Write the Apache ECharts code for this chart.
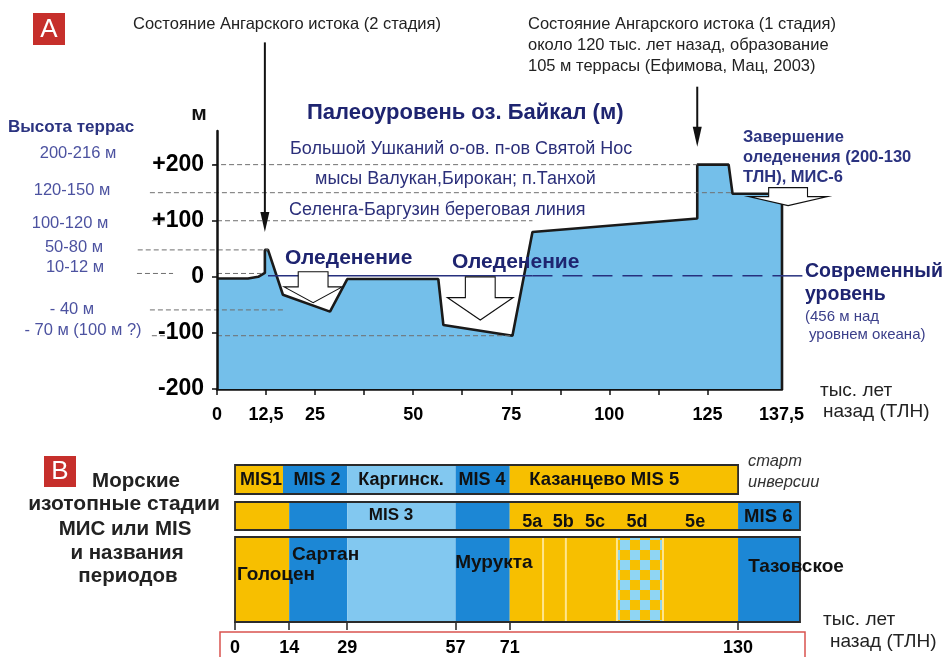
<!DOCTYPE html>
<html><head><meta charset="utf-8">
<script src="https://cdn.jsdelivr.net/npm/echarts@6/dist/echarts.min.js"></script>
<style>html,body{margin:0;padding:0;background:#fff}#c{width:944px;height:657px}</style>
</head><body><div id="c"></div>
<script>
// ================= DATA: panel A (Baikal palaeo-level, m vs kyr BP) =================
const profileKyr   = [0, 7.9, 10.5, 12.2, 12.2, 13.0, 16.8, 28.8, 33.2, 56.4, 57.7, 75.3, 80.4, 122.4, 122.4, 130.4, 131.4, 144, 144];
const profileLevel = [-3, -3, 0, 7, 48, 48, -32, -62, -4, -4, -86, -105, 80, 104, 200, 200, 148, 148, -200];
const yTickValues  = [-200, -100, 0, 100, 200];
const xTickValues  = [0, 12.5, 25, 37.5, 50, 62.5, 75, 87.5, 100, 112.5, 125];
const xLabelValues = [0, 12.5, 25, 50, 75, 100, 125, 137.5];
// terrace reference levels (grey dashed): level, from kyr, to kyr
const terraceLevel = [200, 150, 100, 100, 48, 6, 6, -59, -105, -105];
const terraceFrom  = [-1, -17.1, -16.6, 0, -20.2, -20.4, 0, -17.1, -16.6, 0];
const terraceTo    = [122.4, 131.4, -12.5, 80.4, 13.0, -11.2, 11.7, 17.0, -12.5, 75.3];
// modern level (0 m): segments from / to and dashed flag
const modernFrom   = [13.0, 80.4, 144];
const modernTo     = [80.4, 144, 149.2];
const modernDashed = [0, 1, 0];
// Angara source arrows: kyr, from level, to level (tip)
const sourceKyr  = [12.2, 122.4];
const sourceFrom = [418, 339];
const sourceTo   = [80, 232];
// glaciation arrows: [left, right, stemLeft, stemRight] kyr, [top, headTop, tip] m
const glacLeft   = [17.1, 58.7, 135.5];
const glacRight  = [31.9, 75.5, 155.6];
const glacStemL  = [20.7, 63.3, 140.6];
const glacStemR  = [28.3, 70.9, 150.5];
const glacTop    = [9, 0, 159];
const glacHead   = [-18, -37, 143];
const glacTip    = [-46, -77, 127];

// ================= DATA: panel B (marine isotope stages) =================
const row1Bounds = [0, 12.4, 29, 57, 71, 130];
const row1Kinds  = ['warm', 'cold', 'inter', 'cold', 'warm'];
const row1Names  = ['MIS1', 'MIS 2', 'Каргинск.', 'MIS 4', 'Казанцево MIS 5'];
const row2Bounds = [0, 14, 29, 57, 71, 130, 146];
const row2Kinds  = ['warm', 'cold', 'inter', 'cold', 'warm', 'cold'];
const row2Names  = ['', '', 'MIS 3', '', '', 'MIS 6'];
const row3Bounds = [0, 14, 29, 57, 71, 130, 146];
const row3Kinds  = ['warm', 'cold', 'inter', 'cold', 'warm', 'cold'];
const row3Names  = ['Голоцен', 'Сартан', '', 'Мурукта', '', 'Тазовское'];
const substageNames = ['5a', '5b', '5c', '5d', '5e'];
const substageKyr   = [76.8, 84.8, 93.0, 103.9, 118.9];
const substageDividers = [79.6, 85.5, 98.7, 110.6];
const checkerRange  = [98.7, 110.6];
const bottomTicks   = [0, 14, 29, 57, 71, 130];

// ================= LAYOUT / STYLE =================
const FONT = '"Liberation Sans", Arial, Helvetica, sans-serif';
const NAVY = '#1e2470';
const KIND_COLOR = { warm: '#f7bf00', cold: '#1c87d5', inter: '#82c8f0' };
const ROW_BANDS = [[0, 29], [37, 65], [72, 157]];     // in panel-B y-axis units
// label anchors: [kyr, bandY, align, fontSize]
const ROW_LABEL_LAYOUT = [
  [[6.7, 15, 'center', 18], [21.2, 15, 'center', 18], [42.9, 15, 'center', 18], [63.8, 15, 'center', 18], [95.4, 15, 'center', 18.5]],
  [null, null, [40.3, 50, 'center', 17], null, null, [137.8, 52, 'center', 18.5]],
  [[0.5, 110, 'left', 19], [14.7, 90, 'left', 19], null, [56.9, 98, 'left', 19], null, [132.6, 102, 'left', 19]]
];
const SUBSTAGE_Y = 57;

function font(size, weight, style) {
  return (style === 'italic' ? 'italic ' : '') + (weight === 'bold' ? 'bold ' : '') + size + 'px ' + FONT;
}

// ---- build panel B segments ----
const segStart = [], segEnd = [], segRow = [], segKind = [];
[[row1Bounds, row1Kinds], [row2Bounds, row2Kinds], [row3Bounds, row3Kinds]].forEach(([b, k], r) => {
  k.forEach((kind, i) => { segStart.push(b[i]); segEnd.push(b[i + 1]); segRow.push(r); segKind.push(kind); });
});
const rowFrames = [row1Bounds, row2Bounds, row3Bounds].map((b, r) => [b[0], b[b.length - 1], r]);

const labelText = [], labelData = [], labelAlign = [], labelSize = [];
[row1Names, row2Names, row3Names].forEach((names, r) => {
  names.forEach((n, i) => {
    const L = ROW_LABEL_LAYOUT[r][i];
    if (!n || !L) return;
    labelText.push(n); labelData.push([L[0], L[1]]); labelAlign.push(L[2]); labelSize.push(L[3]);
  });
});
substageNames.forEach((n, i) => { labelText.push(n); labelData.push([substageKyr[i], SUBSTAGE_Y]); labelAlign.push('center'); labelSize.push(18); });

// checker pattern canvas
function checkerCanvas() {
  const c = document.createElement('canvas'); c.width = 20; c.height = 20;
  const g = c.getContext('2d');
  g.fillStyle = KIND_COLOR.warm; g.fillRect(0, 0, 20, 20);
  g.fillStyle = '#8fd5f3'; g.fillRect(0, 0, 10, 10); g.fillRect(10, 10, 10, 10);
  return c;
}
const checkerImg = checkerCanvas();

// ---- graphics (free annotations) ----
const graphics = [];
function T(x, y, s, o) {
  graphics.push({ type: 'text', x: x, y: y, silent: true, z: 100,
    style: { text: s, fill: o.c || '#222', font: font(o.s, o.w, o.st),
      align: o.a || 'left', textAlign: o.a || 'left', verticalAlign: 'middle', textVerticalAlign: 'middle' } });
}
function R(x, y, w, h, fill, stroke) {
  graphics.push({ type: 'rect', silent: true, z: 99, shape: { x: x, y: y, width: w, height: h },
    style: { fill: fill || 'none', stroke: stroke || 'none', lineWidth: 1.5 } });
}
// panel A texts
R(33, 13, 32, 32, '#c62f2b'); T(49, 29.5, 'A', { s: 26, c: '#fff', a: 'center' });
T(133, 24, 'Состояние Ангарского истока (2 стадия)', { s: 16.5 });
T(528, 24, 'Состояние Ангарского истока (1 стадия)', { s: 16.5 });
T(528, 45, 'около 120 тыс. лет назад, образование', { s: 16.5 });
T(528, 66, '105 м террасы (Ефимова, Мац, 2003)', { s: 16.5 });
T(307, 113, 'Палеоуровень оз. Байкал (м)', { s: 22, w: 'bold', c: NAVY });
T(199, 114, 'м', { s: 21, w: 'bold', c: '#111', a: 'center' });
T(8, 127, 'Высота террас', { s: 17, w: 'bold', c: '#2b3380' });
const TERR = '#4c52a0';
T(78, 153, '200-216 м', { s: 16.5, c: TERR, a: 'center' });
T(72, 190, '120-150 м', { s: 16.5, c: TERR, a: 'center' });
T(70, 223, '100-120 м', { s: 16.5, c: TERR, a: 'center' });
T(74, 247, '50-80 м', { s: 16.5, c: TERR, a: 'center' });
T(75, 267, '10-12 м', { s: 16.5, c: TERR, a: 'center' });
T(72, 309, '- 40 м', { s: 16.5, c: TERR, a: 'center' });
T(83, 330, '- 70 м (100 м ?)', { s: 16.5, c: TERR, a: 'center' });
T(290, 149, 'Большой Ушканий о-ов. п-ов Святой Нос', { s: 18, c: '#2b2f7a' });
T(315, 179, 'мысы Валукан,Бирокан; п.Танхой', { s: 18, c: '#2b2f7a' });
T(289, 210, 'Селенга-Баргузин береговая линия', { s: 18, c: '#2b2f7a' });
T(285, 258, 'Оледенение', { s: 21, w: 'bold', c: NAVY });
T(452, 262, 'Оледенение', { s: 21, w: 'bold', c: NAVY });
T(743, 137, 'Завершение', { s: 16.5, w: 'bold', c: '#2b3380' });
T(743, 157, 'оледенения (200-130', { s: 16.5, w: 'bold', c: '#2b3380' });
T(743, 177, 'ТЛН), МИС-6', { s: 16.5, w: 'bold', c: '#2b3380' });
T(805, 272, 'Современный', { s: 19.5, w: 'bold', c: NAVY });
T(805, 295, 'уровень', { s: 19.5, w: 'bold', c: NAVY });
T(805, 317, '(456 м над', { s: 15, c: '#3b3f8a' });
T(809, 335, 'уровнем океана)', { s: 15, c: '#3b3f8a' });
T(820, 391, 'тыс. лет', { s: 19 });
T(823, 412, 'назад (ТЛН)', { s: 19 });
// panel B texts
R(44, 456, 32, 31, '#c62f2b'); T(60, 472, 'B', { s: 26, c: '#fff', a: 'center' });
T(136, 481, 'Морские', { s: 20.5, w: 'bold', a: 'center' });
T(124, 504, 'изотопные стадии', { s: 21, w: 'bold', a: 'center' });
T(125, 529, 'МИС или MIS', { s: 20.5, w: 'bold', a: 'center' });
T(127, 553, 'и названия', { s: 20.5, w: 'bold', a: 'center' });
T(128, 576, 'периодов', { s: 20.5, w: 'bold', a: 'center' });
T(748, 461, 'старт', { s: 16.5, st: 'italic', c: '#333' });
T(748, 482, 'инверсии', { s: 16.5, st: 'italic', c: '#333' });
T(823, 620, 'тыс. лет', { s: 19 });
T(830, 642, 'назад (ТЛН)', { s: 19 });
R(220, 632, 585, 40, null, '#d9534f');

// ================= CHART =================
const chart = echarts.init(document.getElementById('c'));
const axisFont = { color: '#000', fontWeight: 'bold', fontFamily: FONT };

const option = {
  animation: false,
  backgroundColor: '#fff',
  grid: [
    { left: 217, top: 131, width: 565, height: 258, outerBoundsMode: 'none' },
    { left: 235, top: 465, width: 565, height: 157, outerBoundsMode: 'none' }
  ],
  xAxis: [
    { gridIndex: 0, type: 'value', min: 0, max: 144,
      axisLine: { onZero: false, lineStyle: { color: '#111', width: 2.5 } },
      axisTick: { customValues: xTickValues, length: 6, lineStyle: { color: '#111', width: 1.5 } },
      axisLabel: Object.assign({ customValues: xLabelValues, fontSize: 18, margin: 17,
        formatter: v => v === 137.5 ? '{end|137,5}' : String(v).replace('.', ','),
        rich: { end: { padding: [0, 0, 0, 50], fontSize: 18, fontWeight: 'bold', fontFamily: FONT, color: '#000' } } }, axisFont),
      splitLine: { show: false } },
    { gridIndex: 1, type: 'value', min: 0, max: 146,
      axisLine: { onZero: false, lineStyle: { color: '#222', width: 1.5 } },
      axisTick: { customValues: bottomTicks, length: 8, lineStyle: { color: '#222', width: 1.5 } },
      axisLabel: Object.assign({ customValues: bottomTicks, fontSize: 18, margin: 17 }, axisFont),
      splitLine: { show: false } }
  ],
  yAxis: [
    { gridIndex: 0, type: 'value', min: -200, max: 260, z: 5,
      axisLine: { show: true, onZero: false, lineStyle: { color: '#111', width: 2.5 } },
      axisTick: { show: true, customValues: yTickValues, length: 5, lineStyle: { color: '#111', width: 1.5 } },
      axisLabel: Object.assign({ customValues: yTickValues, fontSize: 23, margin: 13,
        formatter: v => v > 0 ? '+' + v : String(v) }, axisFont),
      splitLine: { show: false } },
    { gridIndex: 1, type: 'value', min: 0, max: 157, inverse: true, show: false }
  ],
  graphic: { elements: graphics },
  series: [
    { type: 'line', name: 'profile', xAxisIndex: 0, yAxisIndex: 0, clip: false, silent: true,
      data: profileKyr.map((x, i) => [x, profileLevel[i]]),
      symbol: 'none', lineStyle: { color: '#1a1a1a', width: 2.6 },
      areaStyle: { color: '#74bfea', opacity: 1, origin: 'start' }, z: 2 },
    { type: 'custom', name: 'terraces', xAxisIndex: 0, yAxisIndex: 0, silent: true, z: 3,
      data: terraceLevel.map((y, i) => [terraceFrom[i], terraceTo[i], y]),
      renderItem: (p, api) => {
        const a = api.coord([api.value(0), api.value(2)]), b = api.coord([api.value(1), api.value(2)]);
        return { type: 'line', shape: { x1: a[0], y1: a[1], x2: b[0], y2: b[1] },
          style: { stroke: '#6f6f6f', lineWidth: 1, lineDash: [5, 3] } };
      } },
    { type: 'custom', name: 'modern', xAxisIndex: 0, yAxisIndex: 0, silent: true, z: 4,
      data: modernFrom.map((x, i) => [x, modernTo[i], 0, modernDashed[i]]),
      renderItem: (p, api) => {
        const a = api.coord([api.value(0), api.value(2)]), b = api.coord([api.value(1), api.value(2)]);
        return { type: 'line', shape: { x1: a[0], y1: a[1] - 1, x2: b[0], y2: b[1] - 1 },
          style: { stroke: '#26307e', lineWidth: 1.5, lineDash: api.value(3) ? [20, 10] : null } };
      } },
    { type: 'custom', name: 'glacArrows', xAxisIndex: 0, yAxisIndex: 0, silent: true, z: 6,
      data: glacLeft.map((x, i) => [x, glacRight[i], glacStemL[i], glacStemR[i], glacTop[i], glacHead[i], glacTip[i]]),
      renderItem: (p, api) => {
        const v = i => api.value(i);
        const P = (x, y) => api.coord([x, y]);
        const mid = (v(0) + v(1)) / 2;
        const pts = [P(v(2), v(4)), P(v(3), v(4)), P(v(3), v(5)), P(v(1), v(5)), P(mid, v(6)), P(v(0), v(5)), P(v(2), v(5))];
        return { type: 'polygon', shape: { points: pts }, style: { fill: '#fff', stroke: '#111', lineWidth: 1.1 } };
      } },
    { type: 'custom', name: 'sourceArrows', xAxisIndex: 0, yAxisIndex: 0, silent: true, z: 7,
      data: sourceKyr.map((x, i) => [x, sourceFrom[i], sourceTo[i]]),
      renderItem: (p, api) => {
        const a = api.coord([api.value(0), api.value(1)]), b = api.coord([api.value(0), api.value(2)]);
        return { type: 'group', children: [
          { type: 'line', shape: { x1: a[0], y1: a[1], x2: b[0], y2: b[1] - 14 }, style: { stroke: '#111', lineWidth: 2 } },
          { type: 'polygon', shape: { points: [[b[0] - 4.5, b[1] - 20], [b[0] + 4.5, b[1] - 20], [b[0], b[1]]] }, style: { fill: '#111' } }
        ] };
      } },
    // ---------- panel B ----------
    { type: 'custom', name: 'stages', xAxisIndex: 1, yAxisIndex: 1, silent: true, z: 2,
      data: segStart.map((s, i) => [s, segEnd[i], segRow[i]]),
      renderItem: (p, api) => {
        const band = ROW_BANDS[api.value(2)];
        const a = api.coord([api.value(0), band[0]]), b = api.coord([api.value(1), band[1]]);
        return { type: 'rect', shape: { x: a[0], y: a[1], width: b[0] - a[0], height: b[1] - a[1] },
          style: { fill: KIND_COLOR[segKind[p.dataIndex]] } };
      } },
    { type: 'custom', name: 'checker', xAxisIndex: 1, yAxisIndex: 1, silent: true, z: 3,
      data: [[checkerRange[0], checkerRange[1], 2]],
      renderItem: (p, api) => {
        const band = ROW_BANDS[api.value(2)];
        const a = api.coord([api.value(0), band[0]]), b = api.coord([api.value(1), band[1]]);
        return { type: 'rect', shape: { x: a[0], y: a[1], width: b[0] - a[0], height: b[1] - a[1] },
          style: { fill: { image: checkerImg, repeat: 'repeat' } } };
      } },
    { type: 'custom', name: 'dividers', xAxisIndex: 1, yAxisIndex: 1, silent: true, z: 4,
      data: substageDividers.map(x => [x, 2]),
      renderItem: (p, api) => {
        const band = ROW_BANDS[api.value(1)];
        const a = api.coord([api.value(0), band[0]]), b = api.coord([api.value(0), band[1]]);
        return { type: 'line', shape: { x1: a[0], y1: a[1], x2: b[0], y2: b[1] }, style: { stroke: '#ffe58c', lineWidth: 2 } };
      } },
    { type: 'custom', name: 'frames', xAxisIndex: 1, yAxisIndex: 1, silent: true, z: 5,
      data: rowFrames,
      renderItem: (p, api) => {
        const band = ROW_BANDS[api.value(2)];
        const a = api.coord([api.value(0), band[0]]), b = api.coord([api.value(1), band[1]]);
        return { type: 'rect', shape: { x: a[0], y: a[1], width: b[0] - a[0], height: b[1] - a[1] },
          style: { fill: 'none', stroke: '#2b2b2b', lineWidth: 1.8 } };
      } },
    { type: 'custom', name: 'stageLabels', xAxisIndex: 1, yAxisIndex: 1, silent: true, z: 6,
      data: labelData,
      renderItem: (p, api) => {
        const a = api.coord([api.value(0), api.value(1)]);
        const i = p.dataIndex;
        return { type: 'text', x: a[0], y: a[1],
          style: { text: labelText[i], fill: '#111', font: font(labelSize[i], 'bold'),
            align: labelAlign[i], verticalAlign: 'middle' } };
      } }
  ]
};
chart.setOption(option);
</script>
</body></html>
